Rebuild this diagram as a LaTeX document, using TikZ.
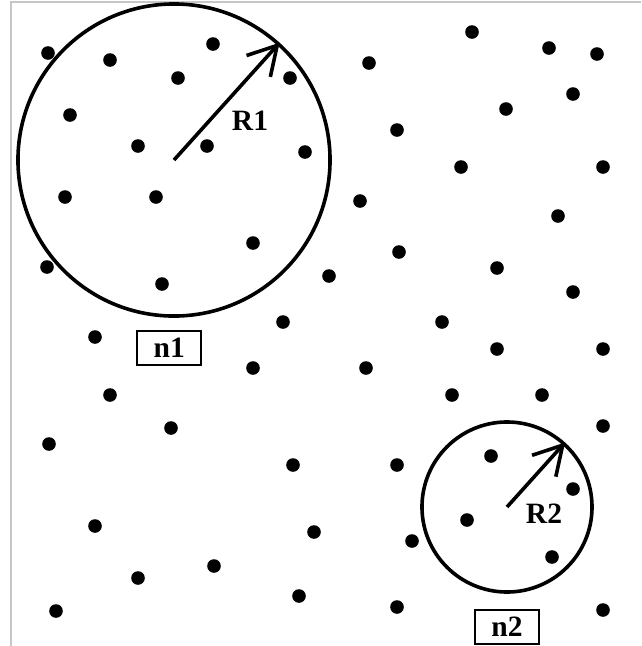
\documentclass[tikz,border=0pt]{standalone}
\usepackage{fontspec}
\setmainfont{Liberation Serif}
\usepackage{tikz}
\usetikzlibrary{arrows.meta,positioning}

\begin{document}
\begin{tikzpicture}[x=0.025cm, y=-0.025cm,
	dot/.style={circle, fill, inner sep=0pt, minimum size=0.34cm},
	zone/.style={circle, draw, line width=0.09cm, inner sep=0pt},
	radarrow/.style={-{Straight Barb[length=0.7cm, width=0.8cm]}, line width=0.09cm},
	lbl/.style={font=\fontsize{21}{24}\selectfont\bfseries},
	tag/.style={draw, line width=0.05cm, minimum width=1.6cm, minimum height=0.85cm, inner sep=0pt, font=\fontsize{21}{24}\selectfont\bfseries}]
		
		\useasboundingbox (0,0) rectangle (641,646);
		\draw [gray!45, line width=0.05cm] (11,646) -- (11,2) -- (641,2);
		
		% scattered points
		\foreach \x/\y [count=\i] in {48/53, 110/60, 213/44, 178/78, 290/78, 70/115, 138/146, 207/146,
			305/152, 65/197, 156/197, 253/243, 47/267, 162/284, 329/276, 283/322,
			472/32, 549/48, 597/54, 369/63, 573/94, 506/109, 397/130, 461/167,
			603/167, 360/201, 558/216, 399/252, 497/268, 573/292, 442/322, 95/337,
			253/368, 110/395, 171/428, 49/444, 293/465, 95/526, 314/532, 214/566,
			138/578, 299/596, 56/611, 497/349, 603/349, 366/368, 452/395, 542/395,
			603/426, 491/456, 397/465, 573/489, 467/520, 412/541, 552/557, 397/607, 603/610}
			\node [dot] (p\i) at (\x,\y) {};
		
		% the two search circles
		\node [zone, minimum size=7.8cm] (c1) at (174,160) {};
		\node [zone, minimum size=4.25cm] (c2) at (507,507) {};
		
		\draw [radarrow] (c1.center) -- (c1.48);
		\draw [radarrow] (c2.center) -- (c2.48);
		
		\node [lbl] (r1) at (250,121) {R1};
		\node [lbl] (r2) at (544,514) {R2};
		
		\node [tag] (n1) [below=0.3cm of c1, xshift=-0.12cm] {n1};
		\node [tag] (n2) [below=0.37cm of c2] {n2};
		
	\end{tikzpicture}
\end{document}
